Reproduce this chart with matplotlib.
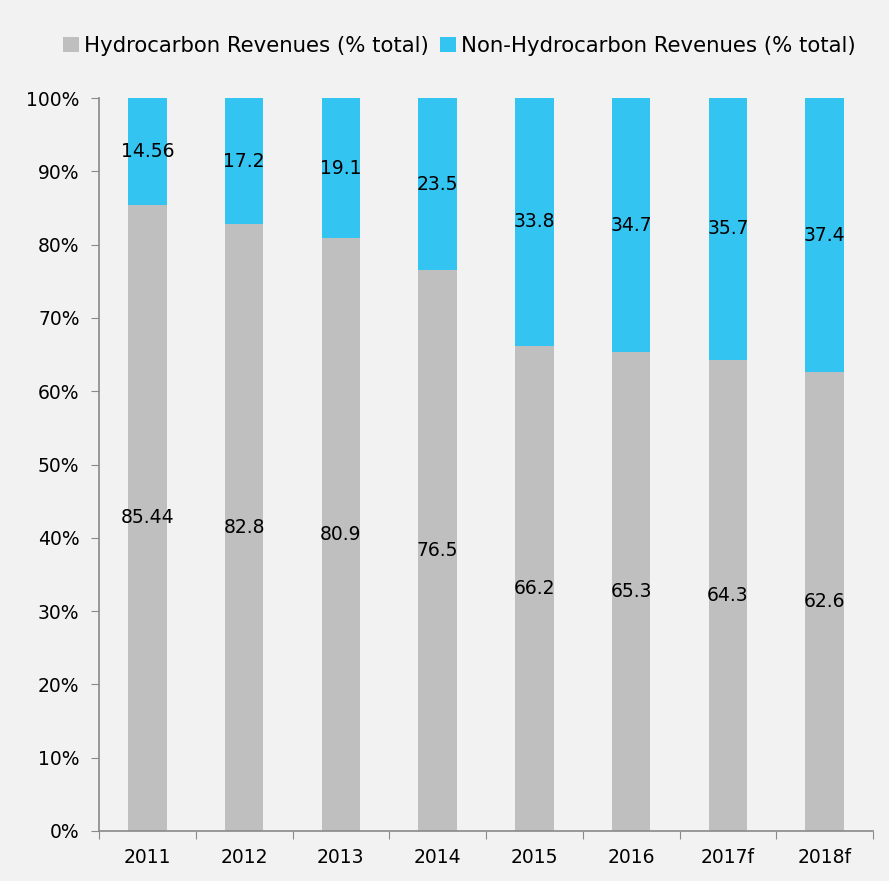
import numpy as np
import matplotlib.pyplot as plt

years = ["2011", "2012", "2013", "2014", "2015", "2016", "2017f", "2018f"]
hydro = [85.44, 82.8, 80.9, 76.5, 66.2, 65.3, 64.3, 62.6]
non_hydro = [14.56, 17.2, 19.1, 23.5, 33.8, 34.7, 35.7, 37.4]
hydro_labels = ["85.44", "82.8", "80.9", "76.5", "66.2", "65.3", "64.3", "62.6"]
non_hydro_labels = ["14.56", "17.2", "19.1", "23.5", "33.8", "34.7", "35.7", "37.4"]

bg = "#f2f2f2"
grey = "#bfbfbf"
cyan = "#33c4f2"
axis_col = "#898989"

plt.rcParams['font.family'] = ['DejaVu Sans']

fig = plt.figure(figsize=(8.89, 8.81), dpi=100, facecolor=bg)
ax = fig.add_axes([99/889, 1 - 831/881, (873-99)/889, (831-98)/881])
ax.set_facecolor(bg)

x = np.arange(len(years))
b1 = ax.bar(x, hydro, width=0.4, color=grey, label="Hydrocarbon Revenues (% total)")
b2 = ax.bar(x, non_hydro, width=0.4, bottom=hydro, color=cyan,
            label="Non-Hydrocarbon Revenues (% total)")

# value labels in the middle of each segment
for i in range(len(years)):
    ax.text(x[i], hydro[i] / 2, hydro_labels[i], ha="center", va="center", fontsize=13.5)
    ax.text(x[i], hydro[i] + non_hydro[i] / 2, non_hydro_labels[i],
            ha="center", va="center", fontsize=13.5)

ax.set_xlim(-0.5, len(years) - 0.5)
ax.set_ylim(0, 100)
ax.set_yticks(np.arange(0, 101, 10))
ax.set_yticklabels([f"{v}%" for v in range(0, 101, 10)], fontsize=13.5)
ax.set_xticks(np.arange(-0.5, len(years), 1.0))
ax.set_xticklabels([])
ax.set_xticks(x, minor=True)
ax.set_xticklabels(years, minor=True, fontsize=13.5)
ax.tick_params(axis="x", which="minor", length=0, pad=12)
ax.tick_params(axis="x", which="major", length=6, color=axis_col, direction="out")
ax.tick_params(axis="y", length=6, color=axis_col, direction="out", pad=8)

for s in ["top", "right"]:
    ax.spines[s].set_visible(False)
for s in ["left", "bottom"]:
    ax.spines[s].set_color(axis_col)
    ax.spines[s].set_linewidth(1.2)

fig.legend(handles=[b1, b2], loc="center", bbox_to_anchor=(0.517, 1 - 46/881), ncol=2,
           frameon=False, fontsize=15.3, handlelength=0.75, handleheight=0.75,
           handletextpad=0.25, columnspacing=0.5)

fig.savefig("out.png", dpi=100, facecolor=bg)
